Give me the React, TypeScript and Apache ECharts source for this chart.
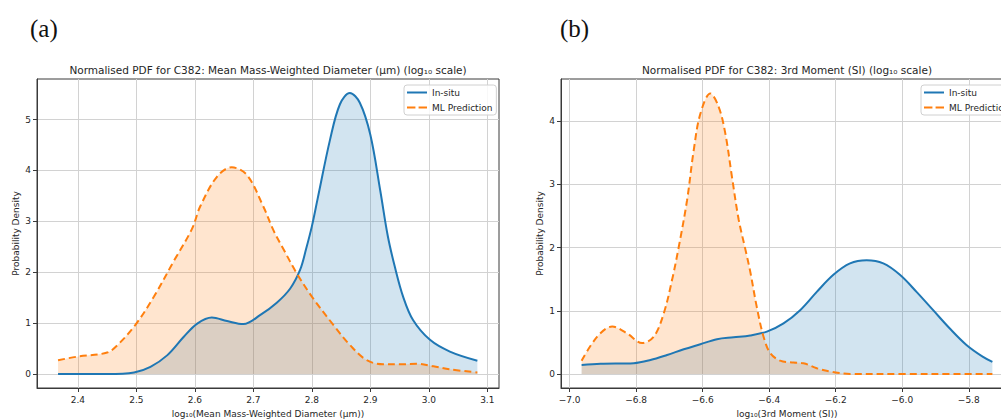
import React, { useEffect, useRef } from 'react';
import * as echarts from 'echarts';

// ---------- data ----------
const seriesNames = ['In-situ', 'ML Prediction'];
const panelLabels = ['(a)', '(b)'];
const titles = [
  'Normalised PDF for C382: Mean Mass-Weighted Diameter (\u00b5m) (log\u2081\u2080 scale)',
  'Normalised PDF for C382: 3rd Moment (SI) (log\u2081\u2080 scale)',
];
const xAxisNames = [
  'log\u2081\u2080(Mean Mass-Weighted Diameter (\u00b5m))',
  'log\u2081\u2080(3rd Moment (SI))',
];
const yAxisName = 'Probability Density';

// Panel (a)
const insituAX = [2.366, 2.45, 2.496, 2.524, 2.553, 2.581, 2.604, 2.629, 2.655, 2.683, 2.712, 2.740, 2.763, 2.780, 2.790, 2.800, 2.810, 2.831, 2.848, 2.865, 2.882, 2.900, 2.917, 2.930, 2.942, 2.956, 2.973, 3.002, 3.036, 3.083];
const insituAY = [0.0, 0.0, 0.03, 0.14, 0.37, 0.73, 0.99, 1.11, 1.04, 0.98, 1.16, 1.40, 1.68, 2.05, 2.45, 2.90, 3.45, 4.60, 5.30, 5.52, 5.33, 4.70, 3.60, 2.70, 2.10, 1.52, 1.06, 0.67, 0.44, 0.26];
const mlAX = [2.366, 2.399, 2.450, 2.467, 2.498, 2.530, 2.564, 2.595, 2.609, 2.638, 2.663, 2.689, 2.717, 2.734, 2.752, 2.774, 2.800, 2.837, 2.865, 2.894, 2.922, 2.951, 2.979, 3.008, 3.036, 3.083];
const mlAY = [0.27, 0.34, 0.42, 0.56, 0.96, 1.52, 2.22, 2.85, 3.29, 3.88, 4.06, 3.91, 3.29, 2.83, 2.44, 1.98, 1.52, 0.96, 0.57, 0.27, 0.19, 0.19, 0.20, 0.15, 0.09, 0.03];
const ticksAX = [2.4, 2.5, 2.6, 2.7, 2.8, 2.9, 3.0, 3.1];
const ticksAY = [0, 1, 2, 3, 4, 5];

// Panel (b)
const insituBX = [-6.964, -6.907, -6.807, -6.757, -6.707, -6.657, -6.607, -6.557, -6.507, -6.457, -6.407, -6.357, -6.307, -6.257, -6.207, -6.157, -6.107, -6.057, -6.007, -5.957, -5.907, -5.857, -5.807, -5.757, -5.729];
const insituBY = [0.14, 0.16, 0.17, 0.22, 0.30, 0.39, 0.47, 0.55, 0.58, 0.61, 0.67, 0.80, 1.01, 1.30, 1.57, 1.75, 1.80, 1.75, 1.57, 1.30, 1.01, 0.72, 0.46, 0.27, 0.19];
const mlBX = [-6.964, -6.917, -6.872, -6.827, -6.782, -6.747, -6.717, -6.692, -6.672, -6.647, -6.627, -6.607, -6.577, -6.552, -6.532, -6.512, -6.492, -6.472, -6.457, -6.437, -6.417, -6.397, -6.367, -6.327, -6.297, -6.257, -6.207, -6.157, -6.0, -5.85, -5.729];
const mlBY = [0.21, 0.59, 0.75, 0.64, 0.49, 0.59, 0.96, 1.49, 2.01, 2.75, 3.54, 4.12, 4.44, 4.23, 3.81, 3.12, 2.45, 1.98, 1.62, 1.05, 0.59, 0.33, 0.21, 0.18, 0.17, 0.09, 0.03, 0.0, 0.0, 0.0, 0.0];
const ticksBX = [-7.0, -6.8, -6.6, -6.4, -6.2, -6.0, -5.8];
const ticksBY = [0, 1, 2, 3, 4];

// ---------- styling ----------
const BLUE = '#1f77b4';
const ORANGE = '#ff7f0e';
const FONT = 'DejaVu Sans';
const TXT = '#262626';
const ICON_SOLID = 'path://M0,0H20V2H0Z';
const ICON_DASHED = 'path://M0,0H8V2H0Z M11,0H19V2H11Z';

const zip = (xs: number[], ys: number[]) => xs.map((x, i) => [x, ys[i]]);
const fmt = (v: number) => v.toFixed(1).replace('-', '\u2212');

function makeXAxis(gridIndex: number, min: number, max: number, ticks: number[], name: string) {
  return {
    type: 'value',
    gridIndex,
    min,
    max,
    name,
    nameLocation: 'middle',
    nameGap: 21,
    nameTextStyle: { fontFamily: FONT, fontSize: 9, color: TXT },
    axisLine: { show: true, onZero: false, lineStyle: { color: '#3a3a3a', width: 1 } },
    axisTick: { show: true, length: 4, customValues: ticks, lineStyle: { color: '#3a3a3a' } },
    axisLabel: { customValues: ticks, formatter: fmt, margin: 7, fontFamily: FONT, fontSize: 9, color: TXT },
    splitLine: { show: true, lineStyle: { color: '#d2d2d2', width: 1 } },
  };
}

function makeYAxis(gridIndex: number, min: number, max: number, ticks: number[]) {
  return {
    type: 'value',
    gridIndex,
    min,
    max,
    name: yAxisName,
    nameLocation: 'middle',
    nameGap: 17,
    nameTextStyle: { fontFamily: FONT, fontSize: 9, color: TXT },
    axisLine: { show: true, onZero: false, lineStyle: { color: '#3a3a3a', width: 1 } },
    axisTick: { show: true, length: 4, customValues: ticks, lineStyle: { color: '#3a3a3a' } },
    axisLabel: { customValues: ticks, formatter: (v: number) => String(Math.round(v)), margin: 6, fontFamily: FONT, fontSize: 9, color: TXT },
    splitLine: { show: true, lineStyle: { color: '#d2d2d2', width: 1 } },
  };
}

function makeSeries(name: string, idx: number, data: number[][], color: string, dashed: boolean) {
  return {
    type: 'line',
    name,
    xAxisIndex: idx,
    yAxisIndex: idx,
    data,
    symbol: 'none',
    smooth: 0.35,
    lineStyle: { color, width: 2, type: dashed ? [7, 4] : 'solid' },
    itemStyle: { color },
    areaStyle: { color, opacity: 0.2, origin: 0 },
  };
}

function makeLegend(left: number) {
  return {
    data: [
      { name: seriesNames[0], icon: ICON_SOLID },
      { name: seriesNames[1], icon: ICON_DASHED },
    ],
    orient: 'vertical',
    left,
    top: 85,
    itemWidth: 20,
    itemHeight: 11,
    itemGap: 6,
    padding: [3, 4, 3, 3],
    borderColor: '#d0d0d0',
    borderWidth: 1,
    borderRadius: 3,
    backgroundColor: 'rgba(255,255,255,0.85)',
    textStyle: { fontFamily: FONT, fontSize: 9, color: TXT },
  };
}

export default function App() {
  const ref = useRef<HTMLDivElement>(null);
  useEffect(() => {
    if (!ref.current) return;
    const chart = echarts.init(ref.current, undefined, { renderer: 'svg' });
    chart.setOption({
      animation: false,
      backgroundColor: '#ffffff',
      grid: [
        { left: 37, top: 79, width: 462, height: 309, outerBoundsMode: 'none', containLabel: false, show: true, borderColor: '#3a3a3a', borderWidth: 1, backgroundColor: 'transparent' },
        { left: 561, top: 79, width: 452, height: 309, outerBoundsMode: 'none', containLabel: false, show: true, borderColor: '#3a3a3a', borderWidth: 1, backgroundColor: 'transparent' },
      ],
      xAxis: [
        makeXAxis(0, 2.330, 3.120, ticksAX, xAxisNames[0]),
        makeXAxis(1, -7.026, -5.667, ticksBX, xAxisNames[1]),
      ],
      yAxis: [
        makeYAxis(0, -0.276, 5.796, ticksAY),
        makeYAxis(1, -0.2225, 4.67, ticksBY),
      ],
      legend: [makeLegend(404), makeLegend(921)],
      series: [
        makeSeries(seriesNames[0], 0, zip(insituAX, insituAY), BLUE, false),
        makeSeries(seriesNames[1], 0, zip(mlAX, mlAY), ORANGE, true),
        makeSeries(seriesNames[0], 1, zip(insituBX, insituBY), BLUE, false),
        makeSeries(seriesNames[1], 1, zip(mlBX, mlBY), ORANGE, true),
      ],
      graphic: [
        { type: 'text', x: 268, y: 70, style: { text: titles[0], fontFamily: FONT, fontSize: 10.5, fill: TXT, textAlign: 'center', textVerticalAlign: 'middle' } },
        { type: 'text', x: 787, y: 70, style: { text: titles[1], fontFamily: FONT, fontSize: 10.5, fill: TXT, textAlign: 'center', textVerticalAlign: 'middle' } },
        { type: 'text', x: 30, y: 28, style: { text: panelLabels[0], fontFamily: 'Liberation Serif', fontSize: 25, fill: '#111', textAlign: 'left', textVerticalAlign: 'middle' } },
        { type: 'text', x: 560, y: 28, style: { text: panelLabels[1], fontFamily: 'Liberation Serif', fontSize: 25, fill: '#111', textAlign: 'left', textVerticalAlign: 'middle' } },
      ],
    });
    return () => chart.dispose();
  }, []);
  return <div ref={ref} style={{ position: 'absolute', left: 0, top: 0, width: 1001, height: 420, overflow: 'hidden' }} />;
}
